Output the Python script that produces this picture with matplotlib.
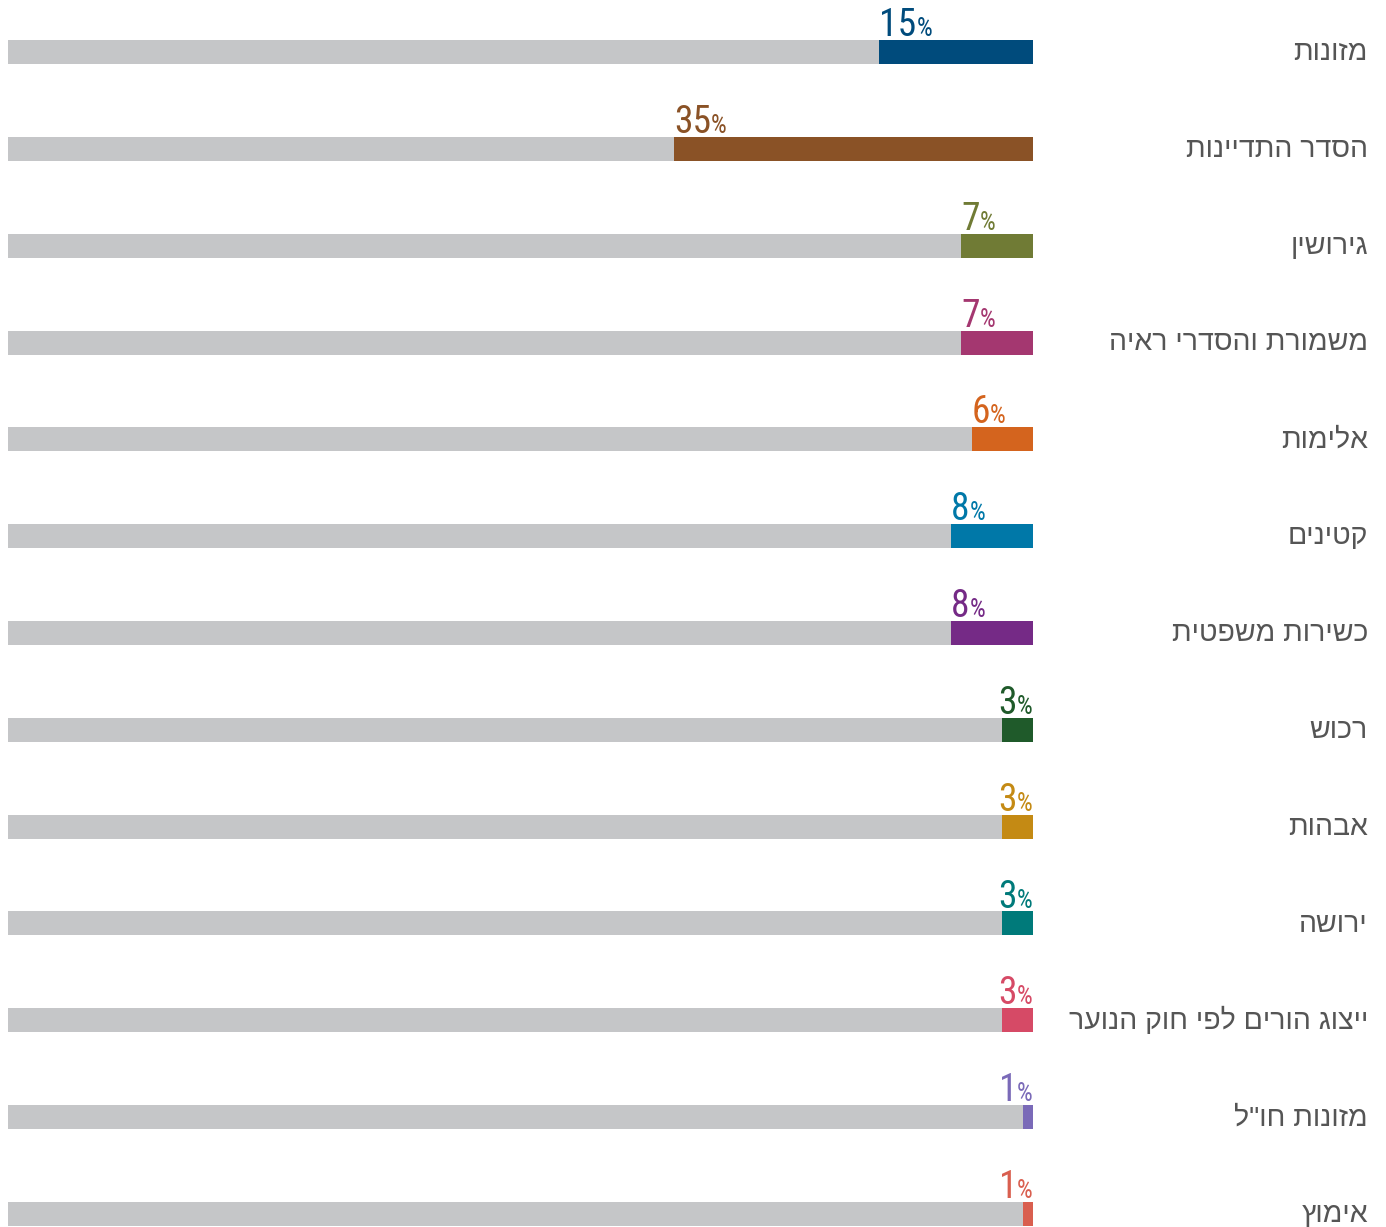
"""
התפלגות תיקים לפי נושא - גרף עמודות אופקיות.
"""

import matplotlib
matplotlib.use("Agg")
import matplotlib.pyplot as plt
from matplotlib import font_manager

categories = [
    "מזונות", "הסדר התדיינות", "גירושין", "משמורת והסדרי ראיה", "אלימות",
    "קטינים", "כשירות משפטית", "רכוש", "אבהות", "ירושה",
    "ייצוג הורים לפי חוק הנוער", 'מזונות חו"ל', "אימוץ",
]
values = [15, 35, 7, 7, 6, 8, 8, 3, 3, 3, 3, 1, 1]
colors = [
    "#004b7c", "#8a5226", "#707b35", "#a43770", "#d4641e",
    "#0078a8", "#752a86", "#1f5a2a", "#c48a14", "#007a7a",
    "#d64a66", "#7a6ab8", "#d95f4f",
]

names = {f.name for f in font_manager.fontManager.ttflist}
num_font = "DejaVu Sans"
for cand in ["Roboto Condensed", "Liberation Sans Narrow", "Open Sans Condensed",
             "DejaVu Sans Condensed"]:
    if cand in names:
        num_font = cand
        break

W, H = 1386, 1227
fig = plt.figure(figsize=(W / 100, H / 100), dpi=100)
ax = fig.add_axes([8 / W, 0, (1033 - 8) / W, 1])

n = len(categories)
step = (1214 - 52) / (n - 1)
ax.set_xlim(0, 100)
ax.set_ylim(n - 1 + (H - 1214) / step, -52 / step)
ax.axis("off")

bar_h = 24 / step
ys = list(range(n))
ax.barh(ys, [100] * n, left=0, height=bar_h, color="#c5c6c8")
ax.barh(ys, values, left=[100 - v for v in values], height=bar_h, color=colors)

fig.canvas.draw()
r = fig.canvas.get_renderer()
inv = ax.transData.inverted()

for y, cat, v, c in zip(ys, categories, values, colors):
    # hebrew label, reversed for RTL since matplotlib has no bidi
    fig.text(1368 / W, 1 - (52 + y * step + 1) / H, cat[::-1],
             ha="right", va="center", fontsize=20.5, color="#555555",
             family=["Liberation Sans", "DejaVu Sans"])
    ytxt = y - bar_h / 2 - 0.04
    start = 100 - v
    t1 = ax.text(start, ytxt, str(v), ha="left", va="baseline",
                 fontsize=27, color=c, family=num_font, fontstretch="condensed")
    bb = t1.get_window_extent(r)
    x_end = inv.transform((bb.x1, bb.y0))[0]
    t2 = ax.text(x_end, ytxt, "%", ha="left", va="baseline",
                 fontsize=18, color=c, family=num_font, fontstretch="condensed")
    bb2 = t2.get_window_extent(r)
    right = inv.transform((bb2.x1, bb2.y0))[0]
    if right > 100:
        shift = right - 100
        t1.set_x(start - shift)
        t2.set_x(x_end - shift)

fig.savefig("out.png", dpi=100)
plt.close(fig)
